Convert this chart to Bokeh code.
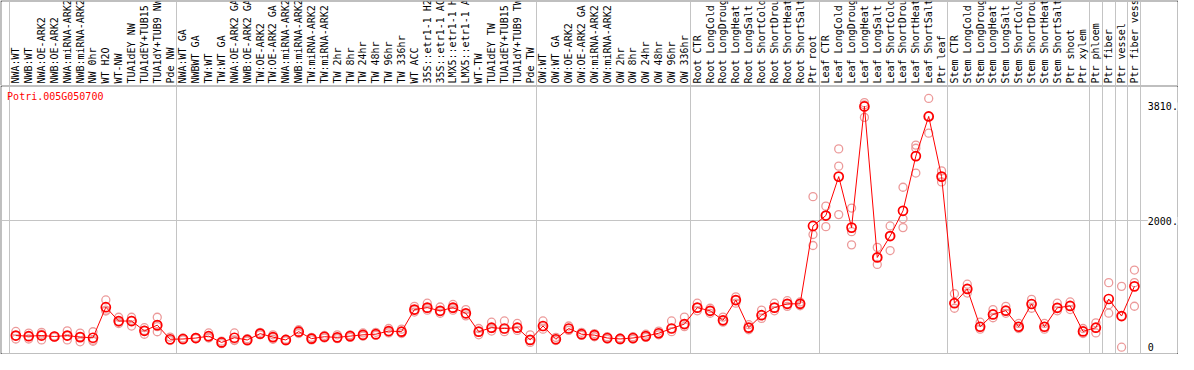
import numpy as np
from bokeh.plotting import figure
from bokeh.models import Range1d, FixedTicker, Grid, Label
from bokeh.layouts import column
from bokeh.embed import file_html
from bokeh.resources import INLINE
from bokeh.core.properties import value

# ---------------- data ----------------
gene = "Potri.005G050700"

labels = [
    "NWA:WT", "NWB:WT", "NWA:OE-ARK2", "NWB:OE-ARK2", "NWA:miRNA-ARK2", "NWB:miRNA-ARK2",
    "NW 0hr", "WT H2O", "WT-NW", "TUA1dEY NW", "TUA1dEY+TUB15", "TUA1dY+TUB9 NW", "Pde NW",
    "NWA:WT GA", "NWBWT GA", "TW:WT", "TW:WT GA", "NWA:OE-ARK2 GA", "NWB:OE-ARK2 GA",
    "TW:OE-ARK2", "TW:OE-ARK2 GA", "NWA:miRNA-ARK2", "NWB:miRNA-ARK2", "TW:miRNA-ARK2",
    "TW:miRNA-ARK2", "TW 2hr", "TW 8hr", "TW 24hr", "TW 48hr", "TW 96hr", "TW 336hr",
    "WT ACC", "35S::etr1-1 H2", "35S::etr1-1 AC", "LMX5::etr1-1 H", "LMX5::etr1-1 A",
    "WT-TW", "TUA1dEY TW", "TUA1dEY+TUB15", "TUA1dY+TUB9 TW", "Pde TW",
    "OW:WT", "OW:WT GA", "OW:OE-ARK2", "OW:OE-ARK2 GA", "OW:miRNA-ARK2", "OW:miRNA-ARK2",
    "OW 2hr", "OW 8hr", "OW 24hr", "OW 48hr", "OW 96hr", "OW 336hr",
    "Root CTR", "Root LongCold", "Root LongDroug", "Root LongHeat", "Root LongSalt",
    "Root ShortCold", "Root ShortDrou", "Root ShortHeat", "Root ShortSalt", "Ptr root",
    "Leaf CTR", "Leaf LongCold", "Leaf LongDroug", "Leaf LongHeat", "Leaf LongSalt",
    "Leaf ShortCold", "Leaf ShortDrou", "Leaf ShortHeat", "Leaf ShortSalt", "Ptr leaf",
    "Stem CTR", "Stem LongCold", "Stem LongDroug", "Stem LongHeat", "Stem LongSalt",
    "Stem ShortCold", "Stem ShortDrou", "Stem ShortHeat", "Stem ShortSalt",
    "Ptr shoot", "Ptr xylem", "Ptr phloem", "Ptr fiber", "Ptr vessel", "Ptr fiber vess",
]

means = [
    189, 179, 189, 174, 189, 164, 154, 637, 418, 418, 264, 353, 130,
    134, 149, 179, 80, 154, 119, 219, 164, 119, 250, 140, 170, 160, 180, 200, 210, 260,
    250, 600, 630, 580, 630, 540, 250, 313, 300, 313, 120,
    340, 130, 300, 210, 195, 150, 135, 150, 180, 225, 300, 370,
    630, 580, 430, 750, 313, 510, 630, 690, 690, 1921,
    2085, 2701, 1895, 3810, 1423, 1761, 2160, 3025, 3652, 2701,
    700, 925, 328, 522, 582, 328, 687, 328, 627, 657, 254, 313, 766, 497, 966,
]

reps = [
    [254, 134, 185], [228, 134, 175], [209, 119, 240], [180, 165, 178], [264, 119, 185],
    [228, 90, 170], [249, 99, 115], [751, 577, 590], [478, 378, 400], [478, 339, 430],
    [313, 209, 270], [478, 249, 330], [164, 120, 110],
    [150, 120, 130], [160, 140, 150], [230, 150, 160], [100, 60, 80], [230, 110, 120],
    [140, 100, 115], [240, 200, 215], [200, 130, 160], [130, 105, 120], [280, 220, 240],
    [160, 120, 140], [190, 150, 170], [200, 140, 150], [200, 160, 190], [230, 180, 190],
    [240, 190, 200], [300, 230, 250], [290, 220, 250], [650, 560, 590], [700, 590, 620],
    [640, 540, 570], [680, 590, 620], [600, 500, 530], [300, 200, 250], [400, 260, 300],
    [420, 250, 290], [380, 270, 310], [200, 80, 120],
    [420, 290, 330], [160, 110, 130], [340, 270, 300], [240, 190, 210], [220, 170, 195],
    [170, 130, 150], [150, 120, 135], [170, 130, 150], [210, 160, 180], [260, 200, 225],
    [420, 250, 300], [480, 330, 370],
    [700, 580, 630], [620, 540, 580], [480, 400, 430], [800, 700, 750], [360, 280, 313],
    [590, 460, 510], [700, 580, 630], [740, 650, 690], [720, 660, 690],
    [2384, 1786, 1612], [2234, 1910, 2085], [3139, 2866, 2100], [2204, 1831, 1622],
    [3870, 3836, 3637], [1582, 1313, 1423], [1921, 1532, 1761], [2533, 2034, 1895],
    [3199, 3149, 2757], [3936, 3388, 3652], [2791, 2616, 2701],
    [850, 620, 700], [1000, 860, 925], [400, 290, 328], [600, 470, 522], [650, 540, 582],
    [380, 300, 328], [760, 620, 687], [380, 290, 328], [700, 580, 627], [720, 600, 657],
    [300, 220, 254], [390, 230, 313], [1025, 677, 542], [966, 5, 497], [1224, 1025, 652],
]

group_bounds = [0, 13, 41, 53, 63, 73, 84, 85, 86, 87, 88]
grid_values = [2000]
tick_values = [0, 2000, 3810]
tick_labels = ["0", "2000.", "3810."]

# ---------------- style ----------------
FONT = "DejaVu Sans Mono"
W = 1178
GRID_COLOR = "#c4c4c4"
MEAN_COLOR = "#ff0000"
REP_COLOR = "#ec9a9a"

n = len(labels)
xs = np.arange(n) + 0.5
rx = [i + 0.5 for i, r in enumerate(reps) for _ in r]
ry = [v for r in reps for v in r]

x_range = Range1d(-0.615, 90.85)

common = dict(output_backend="svg", toolbar_location=None,
              x_axis_location=None, y_axis_location=None,
              border_fill_color="black", background_fill_color="white",
              outline_line_color=None, x_range=x_range)

# ---- top: rotated sample labels ----
top = figure(width=W, height=85, y_range=Range1d(0, 1),
             min_border_left=1, min_border_right=1, min_border_top=1, min_border_bottom=0,
             **common)
top.grid.visible = False
top.add_layout(Grid(dimension=0, ticker=FixedTicker(ticks=group_bounds),
                    grid_line_color=GRID_COLOR, grid_line_width=1), "center")
top.text(x=xs, y=[0] * n, text=labels, angle=np.pi / 2,
         text_align="left", text_baseline="middle", y_offset=-2,
         text_font=value(FONT), text_font_size="10px", text_color="black")

# ---- bottom: expression values ----
bot = figure(width=W, height=269, y_range=Range1d(-95, 4125),
             min_border_left=1, min_border_right=1, min_border_top=1, min_border_bottom=1,
             **common)
bot.grid.visible = False
bot.add_layout(Grid(dimension=0, ticker=FixedTicker(ticks=group_bounds),
                    grid_line_color=GRID_COLOR, grid_line_width=1), "center")
bot.add_layout(Grid(dimension=1, ticker=FixedTicker(ticks=grid_values),
                    grid_line_color=GRID_COLOR, grid_line_width=1), "center")

bot.scatter(rx, ry, marker="circle", size=8, fill_color=None,
            line_color=REP_COLOR, line_width=1.3)
bot.line(xs, means, line_color=MEAN_COLOR, line_width=1)
bot.scatter(xs, means, marker="circle", size=9, fill_color=None,
            line_color=MEAN_COLOR, line_width=1.7)

bot.text(x=[n + 0.54] * len(tick_values), y=tick_values, text=tick_labels,
         text_align="left", text_baseline="middle",
         text_font=value(FONT), text_font_size="10px", text_color="black",
         background_fill_color="white")

bot.add_layout(Label(x=-0.18, y=3960, text=gene, text_color=MEAN_COLOR,
                     text_font=FONT, text_font_size="10px",
                     text_baseline="middle", text_align="left"))

layout = column(top, bot, spacing=0)

open("out.html", "w").write(file_html(layout, INLINE))
